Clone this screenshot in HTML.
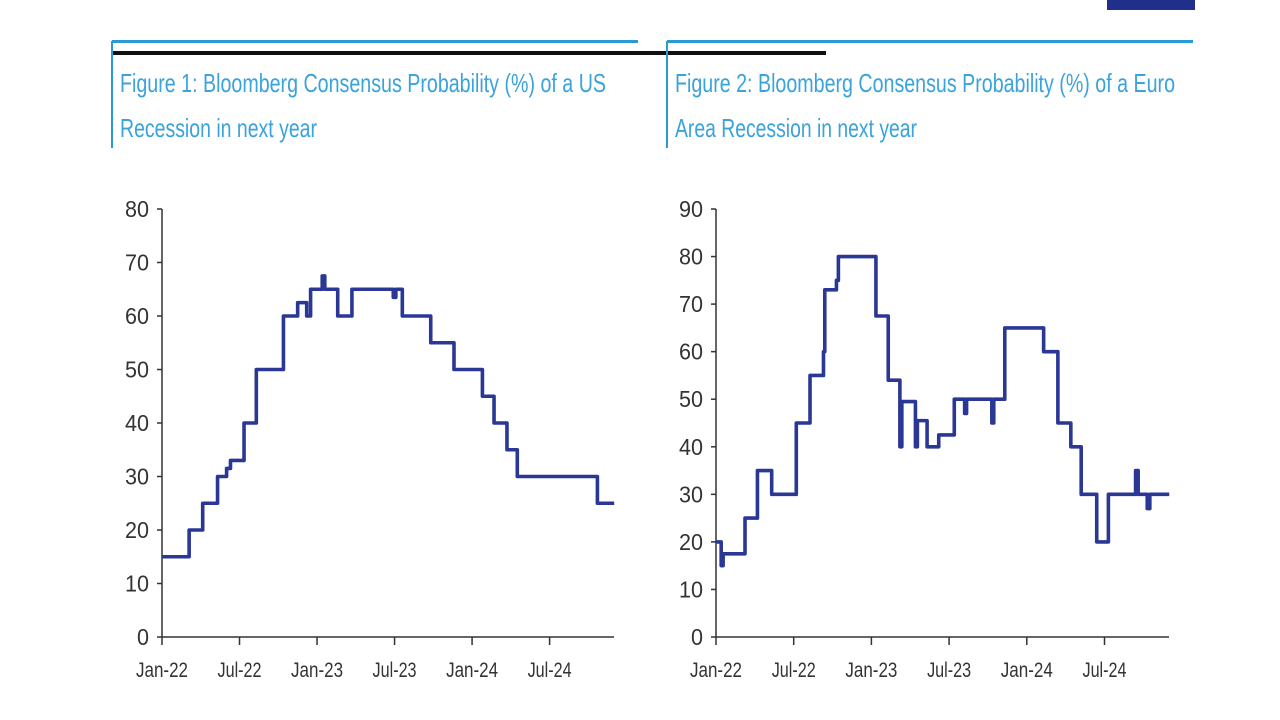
<!DOCTYPE html>
<html><head><meta charset="utf-8"><style>
body{margin:0;background:#fff;}
svg{display:block;font-family:"Liberation Sans",sans-serif;}
</style></head><body>
<svg id="root" width="1280" height="720" viewBox="0 0 1280 720">
<rect x="1107" y="0" width="88" height="10" fill="#1f2f8a"/>
<rect x="112" y="40" width="526" height="3" fill="#2a9ad6"/>
<rect x="667" y="40" width="526" height="3" fill="#2a9ad6"/>
<rect x="113" y="51" width="713" height="4" fill="#111"/>
<rect x="111" y="41" width="2" height="107" fill="#2a9ad6"/>
<rect x="666" y="41" width="2" height="107" fill="#2a9ad6"/>
<g fill="#3aa3dc" font-size="26">
<text x="120" y="92" textLength="486" lengthAdjust="spacingAndGlyphs">Figure 1: Bloomberg Consensus Probability (%) of a US</text>
<text x="120" y="137" textLength="197" lengthAdjust="spacingAndGlyphs">Recession in next year</text>
<text x="675" y="92" textLength="500" lengthAdjust="spacingAndGlyphs">Figure 2: Bloomberg Consensus Probability (%) of a Euro</text>
<text x="675" y="137" textLength="242" lengthAdjust="spacingAndGlyphs">Area Recession in next year</text>
</g>
<g id="c1"></g>
<g id="c2"></g>
</svg>
<script>
const xLabels = ["Jan-22","Jul-22","Jan-23","Jul-23","Jan-24","Jul-24"];
const xTickMonths = [0,6,12,18,24,30];
const usTicks = [0,10,20,30,40,50,60,70,80];
const euTicks = [0,10,20,30,40,50,60,70,80,90];
// step series: value holds from month[i] to month[i+1]
const usMonths = [0,2.1,3.15,4.3,5.0,5.3,6.35,7.3,9.4,10.5,11.2,11.5,12.4,12.6,13.6,14.7,17.9,18.1,18.6,20.8,22.6,24.8,25.7,26.7,27.5,33.7,35];
const usValues = [15,20,25,30,31.5,33,40,50,60,62.5,60,65,67.5,65,60,65,63.5,65,60,55,50,45,40,35,30,25,25];
const euMonths = [0,0.4,0.55,2.24,3.2,4.3,6.2,7.26,8.3,8.4,9.3,9.45,9.55,12.35,13.3,14.2,14.35,15.4,15.55,16.3,17.2,18.4,19.2,19.35,21.3,21.45,22.3,25.3,26.4,27.4,28.2,29.4,30.3,32.4,32.6,33.3,33.5,35];
const euValues = [20,15,17.5,25,35,30,45,55,60,73,75,80,80,67.5,54,40,49.5,40,45.5,40,42.5,50,47,50,45,50,65,60,45,40,30,20,30,35,30,27,30,30];
const NS="http://www.w3.org/2000/svg";
function mk(tag,attrs,parent){const e=document.createElementNS(NS,tag);for(const k in attrs)e.setAttribute(k,attrs[k]);parent.appendChild(e);return e;}
function draw(g,cfg,months,values,ticks,prefix){
  const xs=m=>cfg.x0+m*cfg.pxm;
  const ys=v=>cfg.y0-(v/cfg.vmax)*(cfg.y0-cfg.ytop);
  const ax=mk('path',{d:`M${cfg.x0},${cfg.ytop}V${cfg.y0}H${cfg.xend}`,stroke:'#333',fill:'none','stroke-width':1.5},g);
  
  
  ticks.forEach(t=>{
    const l=mk('line',{x1:cfg.x0-5,x2:cfg.x0,y1:ys(t),y2:ys(t),stroke:'#333','stroke-width':1.5},g);
    
    
    const tx=mk('text',{x:cfg.x0-13,y:ys(t)+8,'text-anchor':'end','font-size':23,fill:'#333',textLength:t>=10?24:12,lengthAdjust:'spacingAndGlyphs'},g);
    tx.textContent=t;
    
    
  });
  xTickMonths.forEach((m,i)=>{
    const l=mk('line',{x1:xs(m),x2:xs(m),y1:cfg.y0,y2:cfg.y0+8,stroke:'#333','stroke-width':1.5},g);
    
    
    const tx=mk('text',{x:xs(m),y:cfg.y0+40,'text-anchor':'middle','font-size':21,fill:'#333',textLength:xLabels[i].startsWith('Jan')?52:44,lengthAdjust:'spacingAndGlyphs'},g);
    tx.textContent=xLabels[i];
    
    
  });
  let d='';
  for(let i=0;i<months.length;i++){
    const x=xs(months[i]),y=ys(values[i]);
    d+= i===0?`M${x},${y}`:`V${y}`;
    const nx = i<months.length-1?xs(months[i+1]):x;
    d+=`H${nx}`;
  }
  const p=mk('path',{d:d,stroke:'#2a3795',fill:'none','stroke-width':3.6,'stroke-linejoin':'round'},g);
  
  
}
draw(document.getElementById('c1'),{x0:162,y0:637,ytop:209,vmax:80,pxm:12.92,xend:614},usMonths,usValues,usTicks,'us');
draw(document.getElementById('c2'),{x0:716,y0:637,ytop:209,vmax:90,pxm:12.95,xend:1169},euMonths,euValues,euTicks,'euro');
</script>
</body></html>
